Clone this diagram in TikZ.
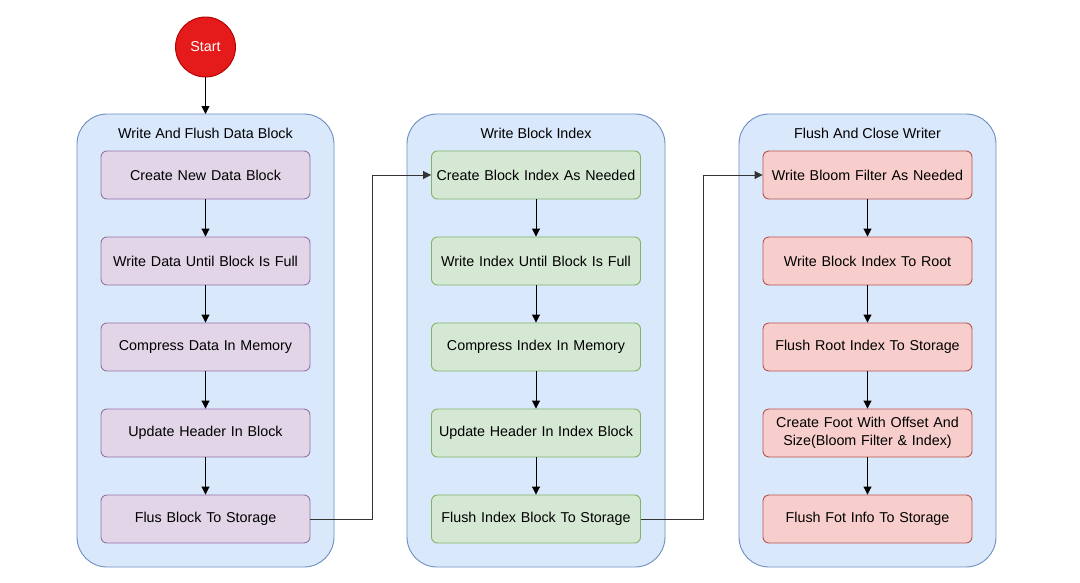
\documentclass[tikz,border=0pt]{standalone}
\usepackage{fontspec}
\setmainfont{Liberation Sans}
\usetikzlibrary{arrows.meta}
\definecolor{contfill}{HTML}{DAE8FC}
\definecolor{contdraw}{HTML}{6C8EBF}
\definecolor{purfill}{HTML}{E1D5E7}
\definecolor{purdraw}{HTML}{9673A6}
\definecolor{grnfill}{HTML}{D5E8D4}
\definecolor{grndraw}{HTML}{82B366}
\definecolor{redfill}{HTML}{F8CECC}
\definecolor{reddraw}{HTML}{B85450}
\definecolor{startfill}{HTML}{E51A1A}
\definecolor{startdraw}{HTML}{B20000}
\tikzset{
  container/.style={draw=contdraw, fill=contfill, rounded corners=30pt, line width=0.9pt},
  stepbox/.style={rectangle, rounded corners=6pt, minimum width=209pt, minimum height=48pt, line width=0.9pt, font=\fontsize{14.3}{18}\selectfont, align=center, text width=200pt},
  purbox/.style={stepbox, draw=purdraw, fill=purfill},
  grnbox/.style={stepbox, draw=grndraw, fill=grnfill},
  redbox/.style={stepbox, draw=reddraw, fill=redfill},
  title/.style={font=\fontsize{14.3}{18}\selectfont},
  arr/.style={-{Triangle[length=8pt,width=8pt]}, line width=0.9pt, draw=black},
  conn/.style={arr, draw=black!80}
}
\begin{document}
\begin{tikzpicture}[x=1pt,y=-1pt]
\useasboundingbox (0,0) rectangle (1080,582);
% containers
\draw[container] (77,114) rectangle (334,567);
\draw[container] (407,114) rectangle (665,567);
\draw[container] (739,114) rectangle (996,567);
\node[title] (t1) at (205.5,133) {Write And Flush Data Block};
\node[title] (t2) at (536,133) {Write Block Index};
\node[title] (t3) at (867.5,133) {Flush And Close Writer};
% start
\node[circle, fill=startfill, draw=startdraw, line width=0.9pt, minimum size=60pt, text=white, font=\fontsize{14.3}{18}\selectfont] (start) at (205.5,47) {Start};
\coordinate (c1top) at (205.5,114);
\draw[arr] (start) -- (c1top);
% column 1
\node[purbox] (a1) at (205.5,175) {Create New Data Block};
\node[purbox] (a2) at (205.5,261) {Write Data Until Block Is Full};
\node[purbox] (a3) at (205.5,347) {Compress Data In Memory};
\node[purbox] (a4) at (205.5,433) {Update Header In Block};
\node[purbox] (a5) at (205.5,519) {Flus Block To Storage};
% column 2
\node[grnbox] (b1) at (536,175) {Create Block Index As Needed};
\node[grnbox] (b2) at (536,261) {Write Index Until Block Is Full};
\node[grnbox] (b3) at (536,347) {Compress Index In Memory};
\node[grnbox] (b4) at (536,433) {Update Header In Index Block};
\node[grnbox] (b5) at (536,519) {Flush Index Block To Storage};
% column 3
\node[redbox] (c1) at (867.5,175) {Write Bloom Filter As Needed};
\node[redbox] (c2) at (867.5,261) {Write Block Index To Root};
\node[redbox] (c3) at (867.5,347) {Flush Root Index To Storage};
\node[redbox] (c4) at (867.5,433) {Create Foot With Offset And\\Size(Bloom Filter \& Index)};
\node[redbox] (c5) at (867.5,519) {Flush Fot Info To Storage};
% arrows
\foreach \p in {a,b,c}{
  \draw[arr] (\p1) -- (\p2);
  \draw[arr] (\p2) -- (\p3);
  \draw[arr] (\p3) -- (\p4);
  \draw[arr] (\p4) -- (\p5);
}
\draw[conn] (a5.east) -- (372,519) -- (372,175) -- (b1.west);
\draw[conn] (b5.east) -- (703,519) -- (703,175) -- (c1.west);
\end{tikzpicture}
\end{document}
